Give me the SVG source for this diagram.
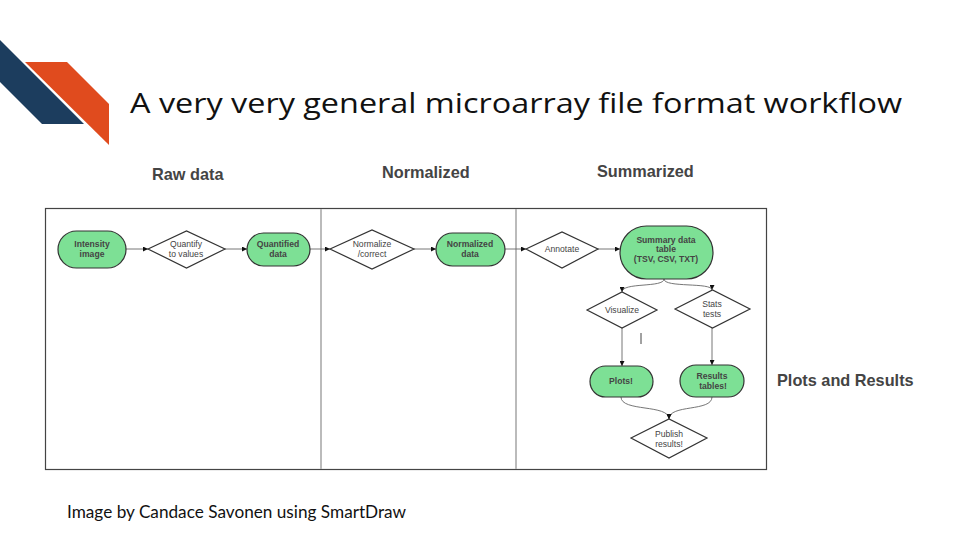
<svg xmlns="http://www.w3.org/2000/svg" width="960" height="540" viewBox="0 0 960 540">
<defs>
<style>
.pill{fill:#7de095;stroke:#333;stroke-width:1.2}
.dia{fill:#fff;stroke:#333;stroke-width:1.2}
.lbl{font-family:"Liberation Sans",Arial,sans-serif;font-size:8.6px;fill:#444;text-anchor:middle}
.b{font-weight:bold}
.hdr{font-family:"Liberation Sans",Arial,sans-serif;font-size:16.3px;font-weight:bold;fill:#444}
.con{fill:none;stroke:#666;stroke-width:0.9}
</style>
<marker id="ah" viewBox="0 0 6 6" refX="6" refY="3" markerWidth="5" markerHeight="5" orient="auto" markerUnits="userSpaceOnUse">
<path d="M0,0 L6,3 L0,6 z" fill="#111"/>
</marker>
</defs>
<rect width="960" height="540" fill="#fff"/>
<g id="logo">
<polygon points="0,40 84,124 42,124 0,82" fill="#1c3d5e"/>
<polygon points="25,62 67,62 109,104 109,145" fill="#e04b1e"/>
</g>
<text x="130" y="113" font-family="'Open Sans','DejaVu Sans',sans-serif" font-size="28" fill="#111" textLength="772" lengthAdjust="spacingAndGlyphs">A very very general microarray file format workflow</text>
<text class="hdr" x="152" y="180">Raw data</text>
<text class="hdr" x="382" y="178">Normalized</text>
<text class="hdr" x="597" y="177">Summarized</text>
<text class="hdr" x="777" y="386">Plots and Results</text>
<g id="frame">
<rect x="45.5" y="208.5" width="721" height="261" fill="#fff" stroke="#444" stroke-width="1.2"/>
<line x1="321" y1="209" x2="321" y2="469" stroke="#bbb" stroke-width="2"/>
<line x1="516" y1="209" x2="516" y2="469" stroke="#bbb" stroke-width="2"/>
</g>
<g id="connectors">
<path class="con" d="M126,249 H148" marker-end="url(#ah)"/>
<path class="con" d="M225,249 H247" marker-end="url(#ah)"/>
<path class="con" d="M310,249 H330" marker-end="url(#ah)"/>
<path class="con" d="M414,249 H436" marker-end="url(#ah)"/>
<path class="con" d="M505,249 H526" marker-end="url(#ah)"/>
<path class="con" d="M598,249 H620" marker-end="url(#ah)"/>
<path class="con" d="M664,279 C664,288 622,282 622,292" marker-end="url(#ah)"/>
<path class="con" d="M664,279 C664,288 712,282 712,290" marker-end="url(#ah)"/>
<path class="con" d="M622,328 V366" marker-end="url(#ah)"/>
<path class="con" d="M712,328 V365" marker-end="url(#ah)"/>
<path class="con" d="M621,397 C621,412 669,404 669,419" marker-end="url(#ah)"/>
<path class="con" d="M712,397 C712,412 669,404 669,419" marker-end="url(#ah)"/>
<line x1="641" y1="333" x2="641" y2="344" stroke="#444" stroke-width="1"/>
</g>
<g id="intensity">
<rect class="pill" x="58" y="231" width="68" height="37" rx="18.5"/>
<text class="lbl b" x="92" y="247">Intensity</text>
<text class="lbl b" x="92" y="257">image</text>
</g>
<g id="quantify">
<polygon class="dia" points="148,249 186.5,231 225,249 186.5,268"/>
<text class="lbl" x="186" y="247">Quantify</text>
<text class="lbl" x="186" y="257">to values</text>
</g>
<g id="quantified">
<rect class="pill" x="247" y="233" width="63" height="33" rx="16.5"/>
<text class="lbl b" x="278" y="247">Quantified</text>
<text class="lbl b" x="278" y="257">data</text>
</g>
<g id="normalize">
<polygon class="dia" points="330,249 372,230 414,249 372,269"/>
<text class="lbl" x="372" y="247">Normalize</text>
<text class="lbl" x="372" y="257">/correct</text>
</g>
<g id="normalized">
<rect class="pill" x="436" y="233" width="69" height="33" rx="16.5"/>
<text class="lbl b" x="470" y="247">Normalized</text>
<text class="lbl b" x="470" y="257">data</text>
</g>
<g id="annotate">
<polygon class="dia" points="526,249 562,232 598,249 562,268"/>
<text class="lbl" x="562" y="252">Annotate</text>
</g>
<g id="summary">
<rect class="pill" x="620" y="226" width="93" height="53" rx="26.5"/>
<text class="lbl b" x="666" y="243">Summary data</text>
<text class="lbl b" x="666" y="252">table</text>
<text class="lbl b" x="666" y="262">(TSV, CSV, TXT)</text>
</g>
<g id="visualize">
<polygon class="dia" points="587,310 622,292 657,310 622,328"/>
<text class="lbl" x="622" y="313">Visualize</text>
</g>
<g id="stats">
<polygon class="dia" points="675,309 712.5,290 750,309 712.5,328"/>
<text class="lbl" x="712" y="307">Stats</text>
<text class="lbl" x="712" y="317">tests</text>
</g>
<g id="plots">
<rect class="pill" x="590" y="366" width="63" height="31" rx="15.5"/>
<text class="lbl b" x="621" y="384">Plots!</text>
</g>
<g id="results">
<rect class="pill" x="680" y="365" width="64" height="32" rx="16"/>
<text class="lbl b" x="712" y="379">Results</text>
<text class="lbl b" x="713" y="389">tables!</text>
</g>
<g id="publish">
<polygon class="dia" points="631,438 669,419 707,438 669,458"/>
<text class="lbl" x="669" y="437">Publish</text>
<text class="lbl" x="669" y="447">results!</text>
</g>
<text x="67" y="518" font-family="Lato,'Open Sans',sans-serif" font-size="17.2" fill="#111">Image by Candace Savonen using SmartDraw</text>
</svg>
